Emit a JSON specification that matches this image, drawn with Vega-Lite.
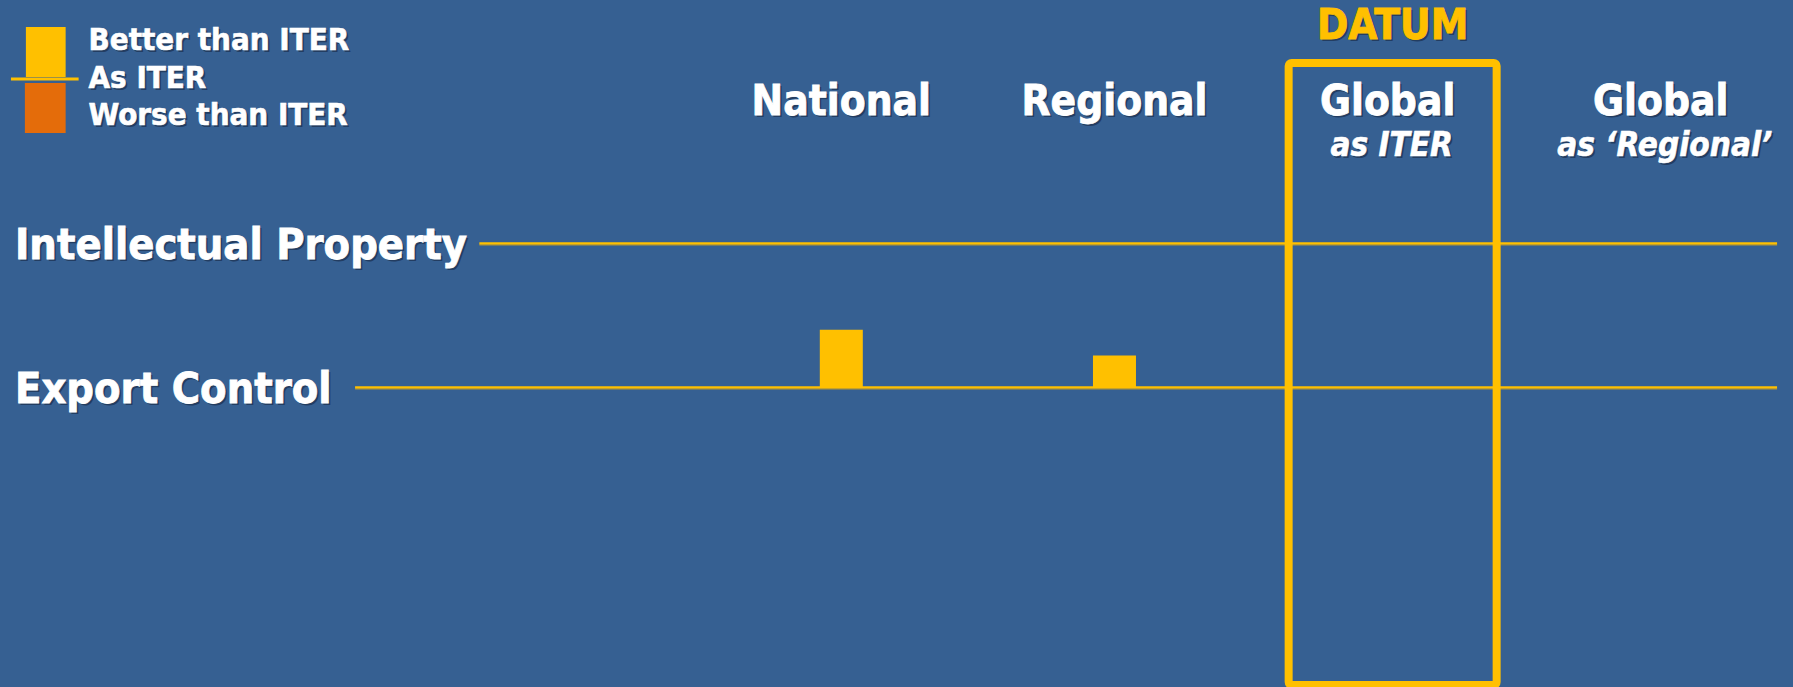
{
  "$schema": "https://vega.github.io/schema/vega-lite/v6.json",
  "width": 1793,
  "height": 687,
  "padding": 0,
  "autosize": {"type": "none"},
  "background": "#366092",
  "config": {
    "view": {"stroke": null},
    "text": {"font": "DejaVu Sans Condensed, DejaVu Sans", "fontWeight": "bold", "baseline": "alphabetic"}
  },
  "datasets": {
    "columns": [
      {"column": "National", "sub": "", "col": 1, "datum": ""},
      {"column": "Regional", "sub": "", "col": 2, "datum": ""},
      {"column": "Global", "sub": "as ITER", "col": 3, "datum": "DATUM"},
      {"column": "Global", "sub": "as ‘Regional’", "col": 4, "datum": ""}
    ],
    "rows": [
      {"row": "Intellectual Property", "level": 5},
      {"row": "Export Control", "level": 0}
    ],
    "bars": [
      {"column": "National", "col": 1, "row": "Export Control", "value": 2.0, "status": "Better than ITER"},
      {"column": "Regional", "col": 2, "row": "Export Control", "value": 1.1, "status": "Better than ITER"}
    ],
    "legend": [
      {"status": "Better than ITER"},
      {"status": "As ITER"},
      {"status": "Worse than ITER"}
    ]
  },
  "layer": [
    {
      "data": {"name": "rows"},
      "transform": [{"filter": "datum.row === 'Intellectual Property'"}],
      "mark": {"type": "rule", "color": "#8c8450", "strokeWidth": 2, "yOffset": 1.5},
      "encoding": {
        "x": {"datum": -0.325, "type": "quantitative", "scale": {"domain": [-2.0615, 4.4656], "nice": false, "zero": false}, "axis": null},
        "x2": {"datum": 4.4256},
        "y": {"field": "level", "type": "quantitative", "scale": {"domain": [-10.406, 13.448], "nice": false, "zero": false}, "axis": null}
      }
    },
    {
      "data": {"name": "rows"},
      "transform": [{"filter": "datum.row === 'Export Control'"}],
      "mark": {"type": "rule", "color": "#8c8450", "strokeWidth": 2, "yOffset": 1.5},
      "encoding": {
        "x": {"datum": -0.78, "type": "quantitative", "scale": {"domain": [-2.0615, 4.4656], "nice": false, "zero": false}, "axis": null},
        "x2": {"datum": 4.4256},
        "y": {"field": "level", "type": "quantitative", "scale": {"domain": [-10.406, 13.448], "nice": false, "zero": false}, "axis": null}
      }
    },
    {
      "data": {"name": "rows"},
      "transform": [{"filter": "datum.row === 'Intellectual Property'"}],
      "mark": {"type": "rule", "color": "#FFC000", "strokeWidth": 2.2},
      "encoding": {
        "x": {"datum": -0.325, "type": "quantitative", "scale": {"domain": [-2.0615, 4.4656], "nice": false, "zero": false}, "axis": null},
        "x2": {"datum": 4.4256},
        "y": {"field": "level", "type": "quantitative", "scale": {"domain": [-10.406, 13.448], "nice": false, "zero": false}, "axis": null}
      }
    },
    {
      "data": {"name": "rows"},
      "transform": [{"filter": "datum.row === 'Export Control'"}],
      "mark": {"type": "rule", "color": "#FFC000", "strokeWidth": 2.2},
      "encoding": {
        "x": {"datum": -0.78, "type": "quantitative", "scale": {"domain": [-2.0615, 4.4656], "nice": false, "zero": false}, "axis": null},
        "x2": {"datum": 4.4256},
        "y": {"field": "level", "type": "quantitative", "scale": {"domain": [-10.406, 13.448], "nice": false, "zero": false}, "axis": null}
      }
    },
    {
      "data": {"name": "columns"},
      "transform": [{"filter": "datum.datum !== ''"}],
      "mark": {"type": "bar", "width": 208, "fillOpacity": 0, "stroke": "#FFC000", "strokeWidth": 8, "cornerRadius": 3, "strokeJoin": "round", "xOffset": 5},
      "encoding": {
        "x": {"field": "col", "type": "quantitative", "scale": {"domain": [-2.0615, 4.4656], "nice": false, "zero": false}, "axis": null},
        "y": {"datum": 11.26, "type": "quantitative", "scale": {"domain": [-10.406, 13.448], "nice": false, "zero": false}, "axis": null},
        "y2": {"datum": -10.34}
      }
    },
    {
      "data": {"name": "bars"},
      "mark": {"type": "bar", "width": 43},
      "encoding": {
        "x": {"field": "col", "type": "quantitative", "scale": {"domain": [-2.0615, 4.4656], "nice": false, "zero": false}, "axis": null},
        "y": {"field": "value", "type": "quantitative", "scale": {"domain": [-10.406, 13.448], "nice": false, "zero": false}, "axis": null},
        "y2": {"datum": 0},
        "color": {"field": "status", "type": "nominal", "scale": {"domain": ["Better than ITER", "As ITER", "Worse than ITER"], "range": ["#FFC000", "#FFC000", "#E46C0A"]}, "legend": null}
      }
    },
    {
      "data": {"name": "legend"},
      "transform": [{"filter": "datum.status === 'Better than ITER'"}],
      "mark": {"type": "rect"},
      "encoding": {
        "x": {"datum": -1.985, "type": "quantitative", "scale": {"domain": [-2.0615, 4.4656], "nice": false, "zero": false}, "axis": null},
        "x2": {"datum": -1.8395},
        "y": {"datum": 12.51, "type": "quantitative", "scale": {"domain": [-10.406, 13.448], "nice": false, "zero": false}, "axis": null},
        "y2": {"datum": 10.774},
        "color": {"field": "status", "type": "nominal", "scale": {"domain": ["Better than ITER", "As ITER", "Worse than ITER"], "range": ["#FFC000", "#FFC000", "#E46C0A"]}, "legend": null}
      }
    },
    {
      "data": {"name": "legend"},
      "transform": [{"filter": "datum.status === 'Worse than ITER'"}],
      "mark": {"type": "rect"},
      "encoding": {
        "x": {"datum": -1.9887, "type": "quantitative", "scale": {"domain": [-2.0615, 4.4656], "nice": false, "zero": false}, "axis": null},
        "x2": {"datum": -1.8395},
        "y": {"datum": 10.566, "type": "quantitative", "scale": {"domain": [-10.406, 13.448], "nice": false, "zero": false}, "axis": null},
        "y2": {"datum": 8.83},
        "color": {"field": "status", "type": "nominal", "scale": {"domain": ["Better than ITER", "As ITER", "Worse than ITER"], "range": ["#FFC000", "#FFC000", "#E46C0A"]}, "legend": null}
      }
    },
    {
      "data": {"name": "legend"},
      "transform": [{"filter": "datum.status === 'As ITER'"}],
      "mark": {"type": "rule", "strokeWidth": 3},
      "encoding": {
        "x": {"datum": -2.0397, "type": "quantitative", "scale": {"domain": [-2.0615, 4.4656], "nice": false, "zero": false}, "axis": null},
        "x2": {"datum": -1.792},
        "y": {"datum": 10.705, "type": "quantitative", "scale": {"domain": [-10.406, 13.448], "nice": false, "zero": false}, "axis": null},
        "color": {"field": "status", "type": "nominal", "scale": {"domain": ["Better than ITER", "As ITER", "Worse than ITER"], "range": ["#FFC000", "#FFC000", "#E46C0A"]}, "legend": null}
      }
    },
    {
      "data": {"name": "legend"},
      "transform": [{"filter": "datum.status === 'Better than ITER'"}],
      "mark": {"type": "text", "align": "left", "fontSize": 31, "color": "#14223a", "opacity": 0.55, "dx": -1, "dy": 2},
      "encoding": {
        "x": {"datum": -1.7448, "type": "quantitative", "scale": {"domain": [-2.0615, 4.4656], "nice": false, "zero": false}, "axis": null},
        "y": {"datum": 11.712, "type": "quantitative", "scale": {"domain": [-10.406, 13.448], "nice": false, "zero": false}, "axis": null},
        "text": {"field": "status"}
      }
    },
    {
      "data": {"name": "legend"},
      "transform": [{"filter": "datum.status === 'As ITER'"}],
      "mark": {"type": "text", "align": "left", "fontSize": 31, "color": "#14223a", "opacity": 0.55, "dx": -1, "dy": 2},
      "encoding": {
        "x": {"datum": -1.7448, "type": "quantitative", "scale": {"domain": [-2.0615, 4.4656], "nice": false, "zero": false}, "axis": null},
        "y": {"datum": 10.392, "type": "quantitative", "scale": {"domain": [-10.406, 13.448], "nice": false, "zero": false}, "axis": null},
        "text": {"field": "status"}
      }
    },
    {
      "data": {"name": "legend"},
      "transform": [{"filter": "datum.status === 'Worse than ITER'"}],
      "mark": {"type": "text", "align": "left", "fontSize": 31, "color": "#14223a", "opacity": 0.55, "dx": -1, "dy": 2},
      "encoding": {
        "x": {"datum": -1.7448, "type": "quantitative", "scale": {"domain": [-2.0615, 4.4656], "nice": false, "zero": false}, "axis": null},
        "y": {"datum": 9.108, "type": "quantitative", "scale": {"domain": [-10.406, 13.448], "nice": false, "zero": false}, "axis": null},
        "text": {"field": "status"}
      }
    },
    {
      "data": {"name": "legend"},
      "transform": [{"filter": "datum.status === 'Better than ITER'"}],
      "mark": {"type": "text", "align": "left", "fontSize": 31, "color": "white", "stroke": "white", "strokeWidth": 0.6, "dx": -3},
      "encoding": {
        "x": {"datum": -1.7448, "type": "quantitative", "scale": {"domain": [-2.0615, 4.4656], "nice": false, "zero": false}, "axis": null},
        "y": {"datum": 11.712, "type": "quantitative", "scale": {"domain": [-10.406, 13.448], "nice": false, "zero": false}, "axis": null},
        "text": {"field": "status"}
      }
    },
    {
      "data": {"name": "legend"},
      "transform": [{"filter": "datum.status === 'As ITER'"}],
      "mark": {"type": "text", "align": "left", "fontSize": 31, "color": "white", "stroke": "white", "strokeWidth": 0.6, "dx": -3},
      "encoding": {
        "x": {"datum": -1.7448, "type": "quantitative", "scale": {"domain": [-2.0615, 4.4656], "nice": false, "zero": false}, "axis": null},
        "y": {"datum": 10.392, "type": "quantitative", "scale": {"domain": [-10.406, 13.448], "nice": false, "zero": false}, "axis": null},
        "text": {"field": "status"}
      }
    },
    {
      "data": {"name": "legend"},
      "transform": [{"filter": "datum.status === 'Worse than ITER'"}],
      "mark": {"type": "text", "align": "left", "fontSize": 31, "color": "white", "stroke": "white", "strokeWidth": 0.6, "dx": -3},
      "encoding": {
        "x": {"datum": -1.7448, "type": "quantitative", "scale": {"domain": [-2.0615, 4.4656], "nice": false, "zero": false}, "axis": null},
        "y": {"datum": 9.108, "type": "quantitative", "scale": {"domain": [-10.406, 13.448], "nice": false, "zero": false}, "axis": null},
        "text": {"field": "status"}
      }
    },
    {
      "data": {"name": "rows"},
      "mark": {"type": "text", "align": "left", "fontSize": 43, "color": "#14223a", "opacity": 0.55, "dx": 2, "dy": 18},
      "encoding": {
        "x": {"datum": -2.025, "type": "quantitative", "scale": {"domain": [-2.0615, 4.4656], "nice": false, "zero": false}, "axis": null},
        "y": {"field": "level", "type": "quantitative", "scale": {"domain": [-10.406, 13.448], "nice": false, "zero": false}, "axis": null},
        "text": {"field": "row"}
      }
    },
    {
      "data": {"name": "rows"},
      "mark": {"type": "text", "align": "left", "fontSize": 43, "color": "white", "stroke": "white", "strokeWidth": 0.8, "dy": 16},
      "encoding": {
        "x": {"datum": -2.025, "type": "quantitative", "scale": {"domain": [-2.0615, 4.4656], "nice": false, "zero": false}, "axis": null},
        "y": {"field": "level", "type": "quantitative", "scale": {"domain": [-10.406, 13.448], "nice": false, "zero": false}, "axis": null},
        "text": {"field": "row"}
      }
    },
    {
      "data": {"name": "columns"},
      "mark": {"type": "text", "align": "center", "fontSize": 42, "color": "#14223a", "opacity": 0.55, "dx": 2, "dy": 2},
      "encoding": {
        "x": {"field": "col", "type": "quantitative", "scale": {"domain": [-2.0615, 4.4656], "nice": false, "zero": false}, "axis": null},
        "y": {"datum": 9.455, "type": "quantitative", "scale": {"domain": [-10.406, 13.448], "nice": false, "zero": false}, "axis": null},
        "text": {"field": "column"}
      }
    },
    {
      "data": {"name": "columns"},
      "mark": {"type": "text", "align": "center", "fontSize": 42, "color": "white", "stroke": "white", "strokeWidth": 0.8},
      "encoding": {
        "x": {"field": "col", "type": "quantitative", "scale": {"domain": [-2.0615, 4.4656], "nice": false, "zero": false}, "axis": null},
        "y": {"datum": 9.455, "type": "quantitative", "scale": {"domain": [-10.406, 13.448], "nice": false, "zero": false}, "axis": null},
        "text": {"field": "column"}
      }
    },
    {
      "data": {"name": "columns"},
      "transform": [{"filter": "datum.sub !== ''"}],
      "mark": {"type": "text", "align": "center", "fontSize": 33, "fontStyle": "italic", "color": "#14223a", "opacity": 0.55, "dx": 6, "dy": 2},
      "encoding": {
        "x": {"field": "col", "type": "quantitative", "scale": {"domain": [-2.0615, 4.4656], "nice": false, "zero": false}, "axis": null},
        "y": {"datum": 8.03, "type": "quantitative", "scale": {"domain": [-10.406, 13.448], "nice": false, "zero": false}, "axis": null},
        "text": {"field": "sub"}
      }
    },
    {
      "data": {"name": "columns"},
      "transform": [{"filter": "datum.sub !== ''"}],
      "mark": {"type": "text", "align": "center", "fontSize": 33, "fontStyle": "italic", "color": "white", "stroke": "white", "strokeWidth": 0.6, "dx": 4},
      "encoding": {
        "x": {"field": "col", "type": "quantitative", "scale": {"domain": [-2.0615, 4.4656], "nice": false, "zero": false}, "axis": null},
        "y": {"datum": 8.03, "type": "quantitative", "scale": {"domain": [-10.406, 13.448], "nice": false, "zero": false}, "axis": null},
        "text": {"field": "sub"}
      }
    },
    {
      "data": {"name": "columns"},
      "transform": [{"filter": "datum.datum !== ''"}],
      "mark": {"type": "text", "align": "center", "fontSize": 42, "color": "#14223a", "opacity": 0.55, "dx": 7, "dy": 2},
      "encoding": {
        "x": {"field": "col", "type": "quantitative", "scale": {"domain": [-2.0615, 4.4656], "nice": false, "zero": false}, "axis": null},
        "y": {"datum": 12.094, "type": "quantitative", "scale": {"domain": [-10.406, 13.448], "nice": false, "zero": false}, "axis": null},
        "text": {"field": "datum"}
      }
    },
    {
      "data": {"name": "columns"},
      "transform": [{"filter": "datum.datum !== ''"}],
      "mark": {"type": "text", "align": "center", "fontSize": 42, "color": "#FFC000", "stroke": "#FFC000", "strokeWidth": 0.9, "dx": 5},
      "encoding": {
        "x": {"field": "col", "type": "quantitative", "scale": {"domain": [-2.0615, 4.4656], "nice": false, "zero": false}, "axis": null},
        "y": {"datum": 12.094, "type": "quantitative", "scale": {"domain": [-10.406, 13.448], "nice": false, "zero": false}, "axis": null},
        "text": {"field": "datum"}
      }
    }
  ]
}
